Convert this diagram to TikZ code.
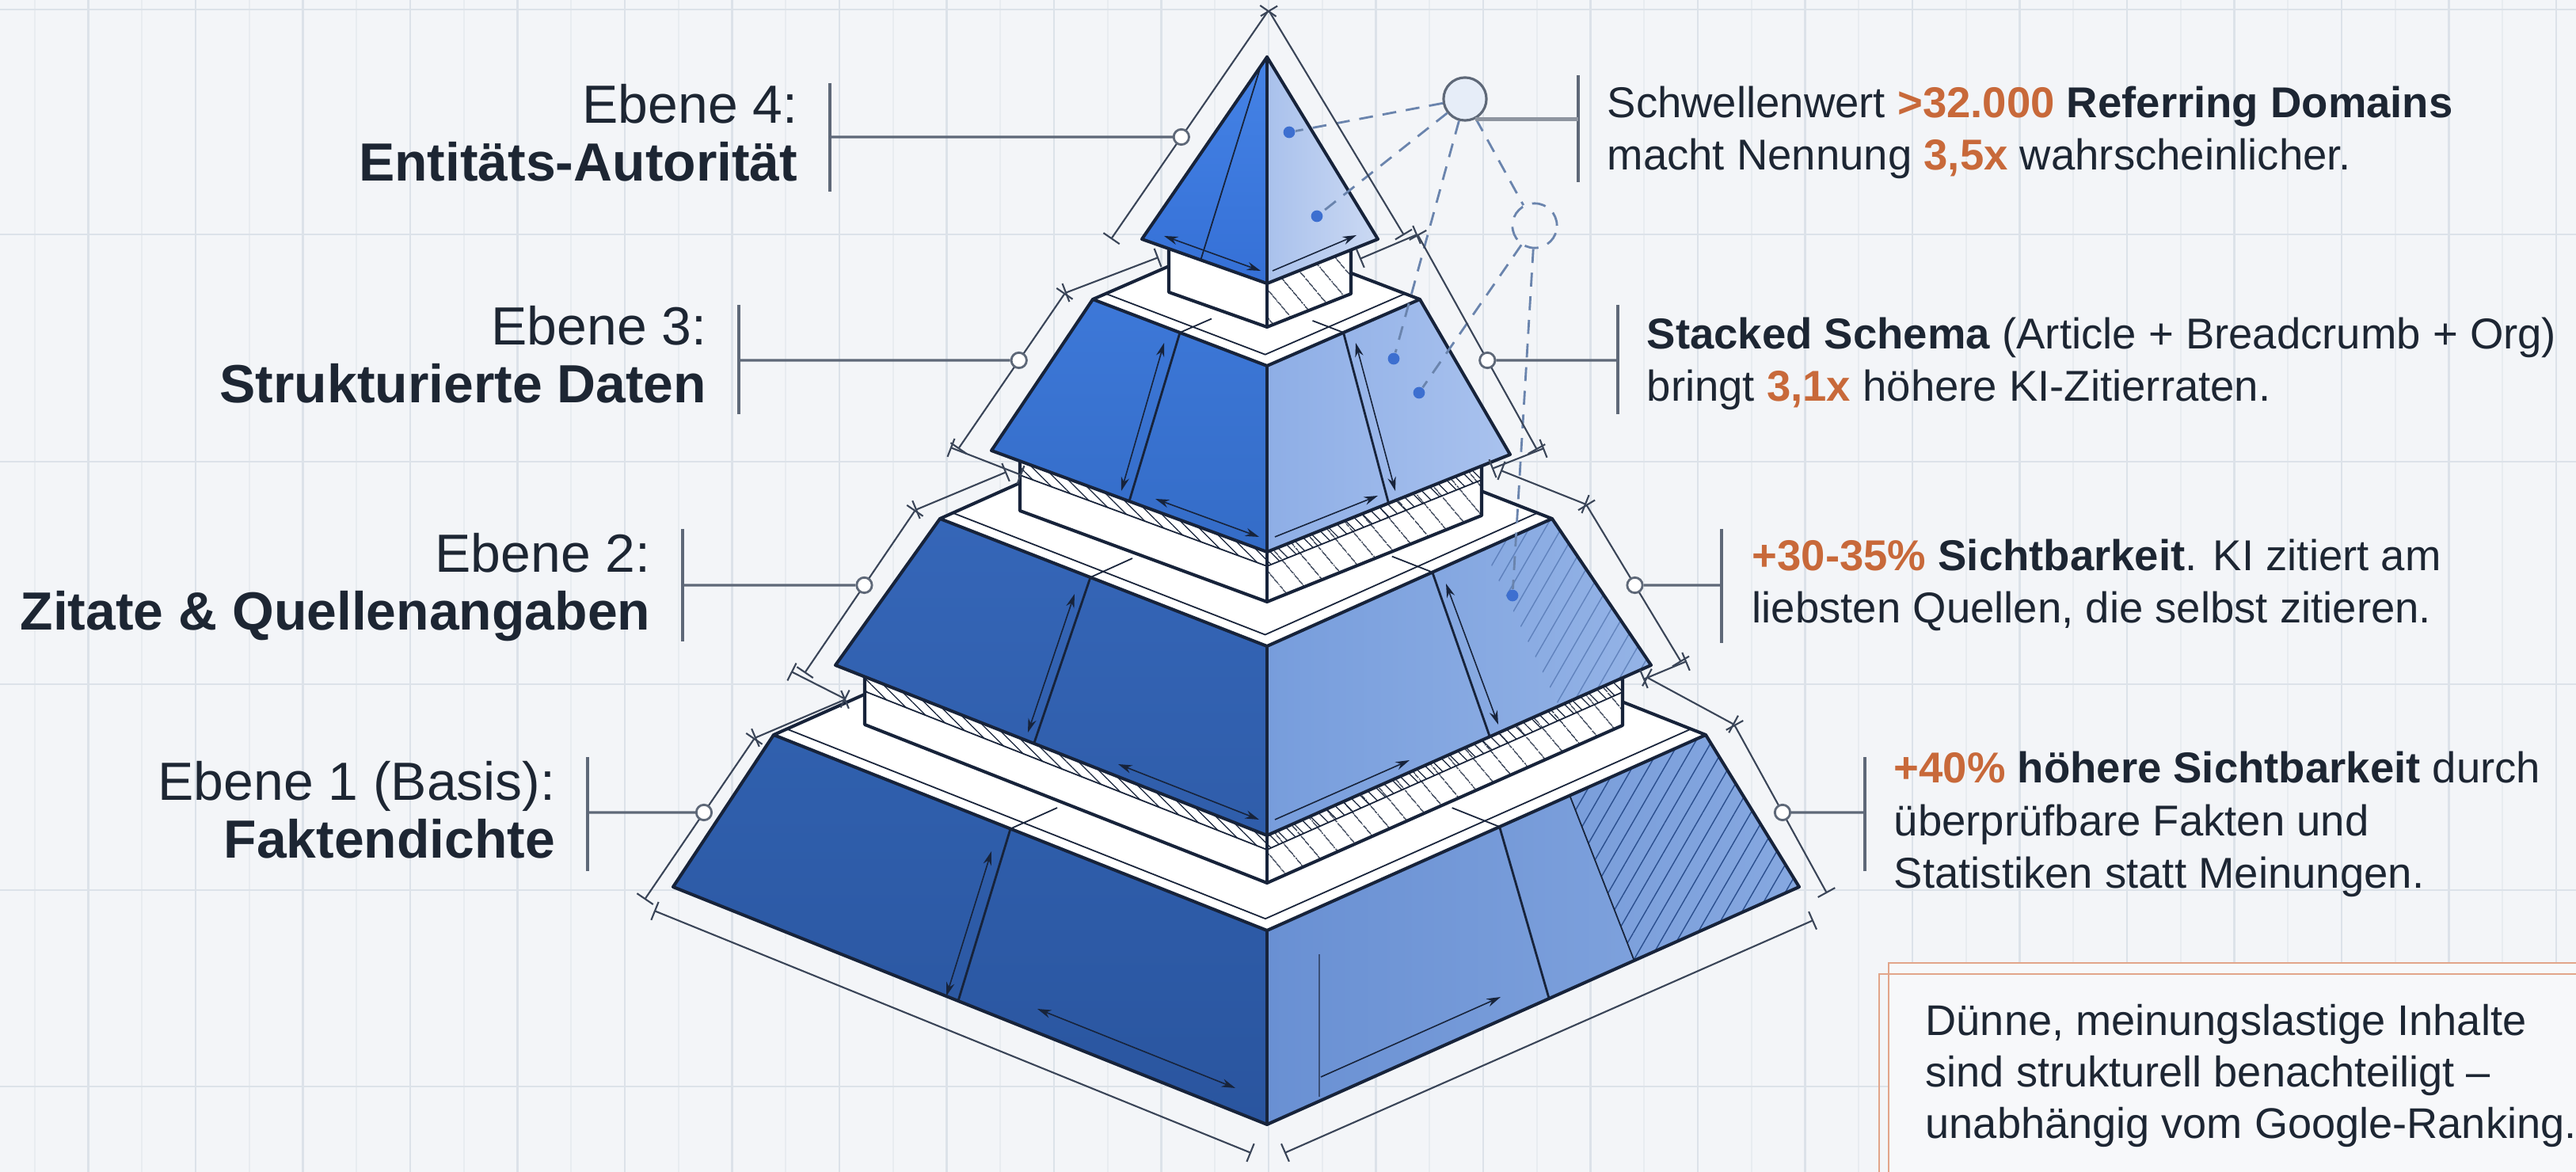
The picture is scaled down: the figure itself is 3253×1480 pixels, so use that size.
\documentclass[tikz,border=0pt]{standalone}
\usepackage{fontspec}
\setmainfont{Liberation Sans}
\usetikzlibrary{calc,arrows.meta,patterns.meta}
\definecolor{bg}{HTML}{F3F5F8}
\definecolor{gridmaj}{HTML}{DCE2E9}
\definecolor{gridmin}{HTML}{E8ECF0}
\definecolor{ink}{HTML}{17233A}
\definecolor{txt}{HTML}{1D2633}
\definecolor{accent}{HTML}{C8693A}
\definecolor{lead}{HTML}{5E6878}
\definecolor{dimc}{HTML}{3A4558}
\definecolor{dotc}{HTML}{3D6FD0}
\definecolor{dashc}{HTML}{6A84AD}
\definecolor{notec}{HTML}{E2A58A}
\definecolor{notebg}{HTML}{F7F8FA}
\definecolor{hatchc}{HTML}{2B4F8E}
\definecolor{c1fill}{HTML}{E6EDF8}
\definecolor{t1la}{HTML}{3060AE}\definecolor{t1lb}{HTML}{2A559F}
\definecolor{t1ra}{HTML}{6990D3}\definecolor{t1rb}{HTML}{86A8E0}
\definecolor{t2la}{HTML}{3566B8}\definecolor{t2lb}{HTML}{2F5DAA}
\definecolor{t2ra}{HTML}{779DDC}\definecolor{t2rb}{HTML}{94B3E6}
\definecolor{t3la}{HTML}{3D78D8}\definecolor{t3lb}{HTML}{346CC7}
\definecolor{t3ra}{HTML}{8EAEE6}\definecolor{t3rb}{HTML}{A9C2EE}
\definecolor{t4la}{HTML}{4583E6}\definecolor{t4lb}{HTML}{3570D6}
\definecolor{t4ra}{HTML}{A9C1EC}\definecolor{t4rb}{HTML}{CBD9F3}
\begin{document}
\begin{tikzpicture}[x=0.01cm,y=-0.01cm,
  outl/.style={draw=ink,line width=1.15pt,line join=round,line cap=round},
  fineline/.style={draw=ink,line width=0.5pt},
  divline/.style={draw=ink,line width=0.8pt},
  dimboth/.style={draw=ink,line width=0.45pt,{Stealth[length=5pt,width=3pt]}-{Stealth[length=5pt,width=3pt]}},
  dimend/.style={draw=ink,line width=0.45pt,-{Stealth[length=5pt,width=3pt]}},
  contourl/.style={draw=dimc,line width=0.6pt,{Bar[width=7pt]}-{Bar[width=7pt]}},
  leader/.style={draw=lead,line width=0.9pt},
  ldbar/.style={draw=lead,line width=0.9pt},
  ring/.style={circle,draw=lead,fill=white,line width=0.8pt,minimum size=5.5pt,inner sep=0pt},
  dotn/.style={circle,fill=dotc,minimum size=4.2pt,inner sep=0pt},
  dashl/.style={draw=dashc,line width=0.8pt,dash pattern=on 5pt off 3.5pt},
  lbl/.style={font=\fontsize{19.3}{21}\selectfont,text=txt,align=right,anchor=base east,inner sep=0pt},
  rtxt/.style={font=\fontsize{15.5}{19}\selectfont,text=txt,align=left,anchor=base west,inner sep=0pt},
  ntxt/.style={font=\fontsize{15.4}{18.5}\selectfont,text=txt,align=left,anchor=base west,inner sep=0pt},
  hatchdense/.style={pattern={Lines[angle=-45,distance=3pt,line width=0.35pt]},pattern color=ink},
  hatchsparse/.style={pattern={Lines[angle=-50,distance=6.5pt,line width=0.4pt]},pattern color=ink},
  hatchface/.style={pattern={Lines[angle=60,distance=5pt,line width=0.4pt]},pattern color=hatchc}
]
\useasboundingbox (0,0) rectangle (3253,1480);
\fill[bg] (0,0) rectangle (3253,1480);
% grid
\foreach \i in {-23,-22,...,24} \draw[gridmin,line width=0.5pt] ({1602+67.75*\i},0) -- ({1602+67.75*\i},1480);
\foreach \i in {-11,-10,...,12} \draw[gridmaj,line width=0.6pt] ({1602+135.5*\i},0) -- ({1602+135.5*\i},1480);
\foreach \y in {12,296,583,864,1124,1372} \draw[gridmaj,line width=0.6pt] (0,\y) -- (3253,\y);

% ================= coordinates
\coordinate (L1b) at (850,1120); \coordinate (F1b) at (1600,1420); \coordinate (R1b) at (2272,1120);
\coordinate (L1t) at (977,928);  \coordinate (F1t) at (1600,1175); \coordinate (R1t) at (2154,928);
\coordinate (B1) at (1531,681);
\coordinate (N1a) at (1092,855); \coordinate (N1c) at (2049,856);
\coordinate (NL1) at (1092,915); \coordinate (NF1) at (1600,1115); \coordinate (NR1) at (2049,916);
\coordinate (L2b) at (1055,840); \coordinate (F2b) at (1600,1055); \coordinate (R2b) at (2085,840);
\coordinate (L2t) at (1187,655); \coordinate (F2t) at (1600,816);  \coordinate (R2t) at (1960,655);
\coordinate (B2) at (1547,494);
\coordinate (N2a) at (1288,582); \coordinate (N2c) at (1871,588);
\coordinate (NL2) at (1288,645); \coordinate (NF2) at (1600,760); \coordinate (NR2) at (1871,651);
\coordinate (L3b) at (1252,569); \coordinate (F3b) at (1600,697); \coordinate (R3b) at (1907,574);
\coordinate (L3t) at (1380,378); \coordinate (F3t) at (1600,462); \coordinate (R3t) at (1793,378);
\coordinate (B3) at (1573,294);
\coordinate (N3a) at (1476,314); \coordinate (N3c) at (1706,316);
\coordinate (NL3) at (1476,369); \coordinate (NF3) at (1600,413); \coordinate (NR3) at (1706,371);
\coordinate (A4) at (1600,72); \coordinate (L4) at (1442,302); \coordinate (F4) at (1600,358); \coordinate (R4) at (1740,302);

% ================= Tier 1
\path[top color=t1la,bottom color=t1lb] (L1t)--(F1t)--(F1b)--(L1b)--cycle;
\path[left color=t1ra,right color=t1rb] (F1t)--(R1t)--(R1b)--(F1b)--cycle;
\path[hatchface] ($(F1t)!0.69!(R1t)$)--(R1t)--(R1b)--($(F1b)!0.69!(R1b)$)--cycle;
\draw[fineline] ($(F1t)!0.69!(R1t)$)--($(F1b)!0.69!(R1b)$);
\draw[divline] ($(L1t)!0.48!(F1t)$) coordinate (d1l) -- ($(L1b)!0.48!(F1b)$);
\draw[divline] ($(F1t)!0.53!(R1t)$) coordinate (d1r) -- ($(F1b)!0.53!(R1b)$);
\draw[fineline,opacity=0.6] (1666,1205)--(1666,1385);
\draw[dimboth] (1252,1075)--(1195,1258);
\draw[dimboth] (1310,1274)--(1560,1374);
\draw[dimend] (1668,1360)--(1895,1259);
\draw[outl] (L1t)--(L1b)--(F1b)--(R1b)--(R1t); \draw[outl] (F1t)--(F1b);
% ledge 1
\draw[outl,fill=white] (L1t)--(F1t)--(R1t)--(B1)--cycle;
\draw[fineline] ($(L1t)!0.03!(B1)$)--($(F1t)!0.03!(B1)$)--($(R1t)!0.03!(B1)$);
\draw[fineline] (d1l)--++(59,-26.5); \draw[fineline] (d1r)--++(-60,-24);
% neck 1
\path[fill=white] (N1a)--(F2b)--(NF1)--(NL1)--cycle;
\path[fill=white] (F2b)--(N1c)--(NR1)--(NF1)--cycle;
\path[hatchsparse] (F2b)--(N1c)--(NR1)--(NF1)--cycle;
\path[hatchdense] (N1a)--(F2b)--(N1c)--($(N1c)+(0,18)$)--($(F2b)+(0,18)$)--($(N1a)+(0,18)$)--cycle;
\draw[fineline] ($(N1a)+(0,18)$)--($(F2b)+(0,18)$)--($(N1c)+(0,18)$);
\draw[outl] (N1a)--(NL1)--(NF1)--(NR1)--(N1c); \draw[outl] (F2b)--(NF1);

% ================= Tier 2
\path[top color=t2la,bottom color=t2lb] (L2t)--(F2t)--(F2b)--(L2b)--cycle;
\path[left color=t2ra,right color=t2rb] (F2t)--(R2t)--(R2b)--(F2b)--cycle;
\path[hatchface,opacity=0.45] ($(F2t)!0.76!(R2t)$)--(R2t)--(R2b)--($(F2b)!0.76!(R2b)$)--cycle;
\draw[divline] ($(L2t)!0.46!(F2t)$) coordinate (d2l) -- ($(L2b)!0.46!(F2b)$);
\draw[divline] ($(F2t)!0.58!(R2t)$) coordinate (d2r) -- ($(F2b)!0.58!(R2b)$);
\draw[dimboth] (1357,750)--(1298,925);
\draw[dimboth] (1412,965)--(1590,1035);
\draw[dimend] (1610,1035)--(1780,960);
\draw[dimboth] (1826,737)--(1892,915);
\draw[outl] (L2t)--(L2b)--(F2b)--(R2b)--(R2t); \draw[outl] (F2t)--(F2b);
% ledge 2
\draw[outl,fill=white] (L2t)--(F2t)--(R2t)--(B2)--cycle;
\draw[fineline] ($(L2t)!0.045!(B2)$)--($(F2t)!0.045!(B2)$)--($(R2t)!0.045!(B2)$);
\draw[fineline] (d2l)--++(53,-24); \draw[fineline] (d2r)--++(-51,-20);
% neck 2
\path[fill=white] (N2a)--(F3b)--(NF2)--(NL2)--cycle;
\path[fill=white] (F3b)--(N2c)--(NR2)--(NF2)--cycle;
\path[hatchsparse] (F3b)--(N2c)--(NR2)--(NF2)--cycle;
\path[hatchdense] (N2a)--(F3b)--(N2c)--($(N2c)+(0,18)$)--($(F3b)+(0,18)$)--($(N2a)+(0,18)$)--cycle;
\draw[fineline] ($(N2a)+(0,18)$)--($(F3b)+(0,18)$)--($(N2c)+(0,18)$);
\draw[outl] (N2a)--(NL2)--(NF2)--(NR2)--(N2c); \draw[outl] (F3b)--(NF2);

% ================= Tier 3
\path[top color=t3la,bottom color=t3lb] (L3t)--(F3t)--(F3b)--(L3b)--cycle;
\path[left color=t3ra,right color=t3rb] (F3t)--(R3t)--(R3b)--(F3b)--cycle;
\draw[divline] ($(L3t)!0.5!(F3t)$) coordinate (d3l) -- ($(L3b)!0.5!(F3b)$);
\draw[divline] ($(F3t)!0.5!(R3t)$) coordinate (d3r) -- ($(F3b)!0.5!(R3b)$);
\draw[dimboth] (1470,433)--(1416,620);
\draw[dimboth] (1459,630)--(1590,678);
\draw[dimend] (1610,678)--(1740,626);
\draw[dimboth] (1712,433)--(1762,620);
\draw[outl] (L3t)--(L3b)--(F3b)--(R3b)--(R3t); \draw[outl] (F3t)--(F3b);
% ledge 3
\draw[outl,fill=white] (L3t)--(F3t)--(R3t)--(B3)--cycle;
\draw[fineline] ($(L3t)!0.085!(B3)$)--($(F3t)!0.085!(B3)$)--($(R3t)!0.085!(B3)$);
\draw[fineline] (d3l)--++(40,-17.5); \draw[fineline] (d3r)--++(-39,-15);
% neck 3
\path[fill=white] (N3a)--(F4)--(NF3)--(NL3)--cycle;
\path[fill=white] (F4)--(N3c)--(NR3)--(NF3)--cycle;
\path[hatchsparse] (F4)--(N3c)--(NR3)--(NF3)--cycle;
\draw[outl] (N3a)--(NL3)--(NF3)--(NR3)--(N3c); \draw[outl] (F4)--(NF3);

% ================= Tier 4
\path[top color=t4la,bottom color=t4lb] (A4)--(L4)--(F4)--cycle;
\path[left color=t4ra,right color=t4rb] (A4)--(F4)--(R4)--cycle;
\draw[fineline] ($(A4)!0.05!(L4)$)--($(L4)!0.47!(F4)$);
\draw[dimboth] (1470,298)--(1592,342);
\draw[dimend] (1607,342)--(1713,297);
\draw[outl] (A4)--(L4)--(F4)--(R4)--cycle; \draw[outl] (A4)--(F4);

% ================= dots, circles, dashed links
\node[dotn] (t4a) at (1628,167) {};
\node[dotn] (t4b) at (1663,273) {};
\node[dotn] (t3a) at (1760,453) {};
\node[dotn] (t3b) at (1792,496) {};
\node[dotn] (t2a) at (1910,752) {};
\node[circle,draw=lead,fill=c1fill,line width=0.9pt,minimum size=15.4pt,inner sep=0pt] (c1) at (1850,125) {};
\node[circle,dashl,minimum size=16pt,inner sep=0pt] (c2) at (1938,285) {};
\draw[dashl] (c1) -- (t4a);
\draw[dashl] (c1) -- (t4b);
\draw[dashl] (c1) -- (t3a);
\draw[dashl] (c1) -- (c2);
\draw[dashl] (c2) -- (t3b);
\draw[dashl] (c2) -- (t2a);

% ================= outer dimension contour
\coordinate (s1a) at (1602,13);  \coordinate (s1b) at (1403,302);
\coordinate (s3a) at (1345,370); \coordinate (s3b) at (1210,567);
\coordinate (s6a) at (1156,644); \coordinate (s6b) at (1016,850);
\coordinate (s9a) at (953,932);  \coordinate (s9b) at (814,1136);
\coordinate (r3a) at (1790,296); \coordinate (r3b) at (1941,568);
\coordinate (r6a) at (2003,637); \coordinate (r6b) at (2123,836);
\coordinate (r9a) at (2190,915); \coordinate (r9b) at (2307,1128);
\draw[contourl] (s1a)--(s1b);
\draw[contourl] (1463,325)--(s3a);
\draw[contourl] (s3a)--(s3b);
\draw[contourl] (1200,565)--(1290,600);
\draw[contourl] (1271,596)--(s6a);
\draw[contourl] (s6a)--(s6b);
\draw[contourl] (999,848)--(1068,883);
\draw[contourl] (1068,883)--(s9a);
\draw[contourl] (s9a)--(s9b);
\draw[contourl] (826,1150)--(1580,1456);
\draw[contourl] (s1a)--(1773,297);
\draw[contourl] (1717,327)--(r3a);
\draw[contourl] (r3a)--(r3b);
\draw[contourl] (1950,566)--(1884,592);
\draw[contourl] (1895,594)--(r6a);
\draw[contourl] (r6a)--(r6b);
\draw[contourl] (2130,835)--(2075,858);
\draw[contourl] (2079,855)--(r9a);
\draw[contourl] (r9a)--(r9b);
\draw[contourl] (2290,1162)--(1622,1456);

% ================= leader circles
\node[ring] (e4c) at ($(s1a)!0.5536!(s1b)$) {};
\node[ring] (e3c) at ($(s3a)!0.4315!(s3b)$) {};
\node[ring] (e2c) at ($(s6a)!0.461!(s6b)$) {};
\node[ring] (e1c) at ($(s9a)!0.4608!(s9b)$) {};
\node[ring] (r3c) at ($(r3a)!0.5846!(r3b)$) {};
\node[ring] (r2c) at ($(r6a)!0.5126!(r6b)$) {};
\node[ring] (r1c) at ($(r9a)!0.521!(r9b)$) {};

% ================= left labels (anchor = baseline of last line)
\coordinate (e4b) at (1048,173); \coordinate (e3b) at (933,455);
\coordinate (e2b) at (862,739);  \coordinate (e1b) at (742,1026);
\draw[ldbar] (1048,105)--(1048,242);
\draw[ldbar] (933,385)--(933,523);
\draw[ldbar] (862,668)--(862,810);
\draw[ldbar] (742,956)--(742,1100);
\draw[leader] (e4b)--(e4c);
\draw[leader] (e3b)--(e3c);
\draw[leader] (e2b)--(e2c);
\draw[leader] (e1b)--(e1c);
\node[lbl] (e4t) at (1008,229) {Ebene 4:\\\textbf{Entitäts-Autorität}};
\node[lbl] (e3t) at (893,509) {Ebene 3:\\\textbf{Strukturierte Daten}};
\node[lbl] (e2t) at (822,796) {Ebene 2:\\\textbf{Zitate \& Quellenangaben}};
\node[lbl] (e1t) at (702,1084) {Ebene 1 (Basis):\\\textbf{Faktendichte}};

% ================= right texts
\coordinate (r4b) at (1993,150); \coordinate (r3b2) at (2043,455);
\coordinate (r2b) at (2174,739); \coordinate (r1b) at (2355,1026);
\draw[ldbar] (1993,95)--(1993,230);
\draw[ldbar] (2043,385)--(2043,523);
\draw[ldbar] (2174,668)--(2174,812);
\draw[ldbar] (2355,956)--(2355,1100);
\draw[draw=lead!70,line width=1.3pt] (c1.-62) -- (c1.-62 -| r4b);
\draw[leader] (r3c)--(r3b2);
\draw[leader] (r2c)--(r2b);
\draw[leader] (r1c)--(r1b);
\node[rtxt] (r4t) at (2029,215) {Schwellenwert \textbf{\textcolor{accent}{>32.000} Referring Domains}\\macht Nennung \textbf{\textcolor{accent}{3,5x}} wahrscheinlicher.};
\node[rtxt] (r3t) at (2079,507) {\textbf{Stacked Schema} (Article + Breadcrumb + Org)\\bringt \textbf{\textcolor{accent}{3,1x}} höhere KI-Zitierraten.};
\node[rtxt] (r2t) at (2212,787) {\textbf{\textcolor{accent}{+30-35\%} Sichtbarkeit}. KI zitiert am\\liebsten Quellen, die selbst zitieren.};
\node[rtxt] (r1t) at (2391,1122) {\textbf{\textcolor{accent}{+40\%} höhere Sichtbarkeit} durch\\überprüfbare Fakten und\\Statistiken statt Meinungen.};

% ================= note box
\draw[notec,line width=0.8pt,fill=notebg] (2385,1216) rectangle (3320,1520);
\draw[notec,line width=0.8pt] (2373,1230) rectangle (3320,1520);
\node[ntxt] (note) at (2431,1438) {Dünne, meinungslastige Inhalte\\sind strukturell benachteiligt –\\unabhängig vom Google-Ranking.};
\end{tikzpicture}
\end{document}
